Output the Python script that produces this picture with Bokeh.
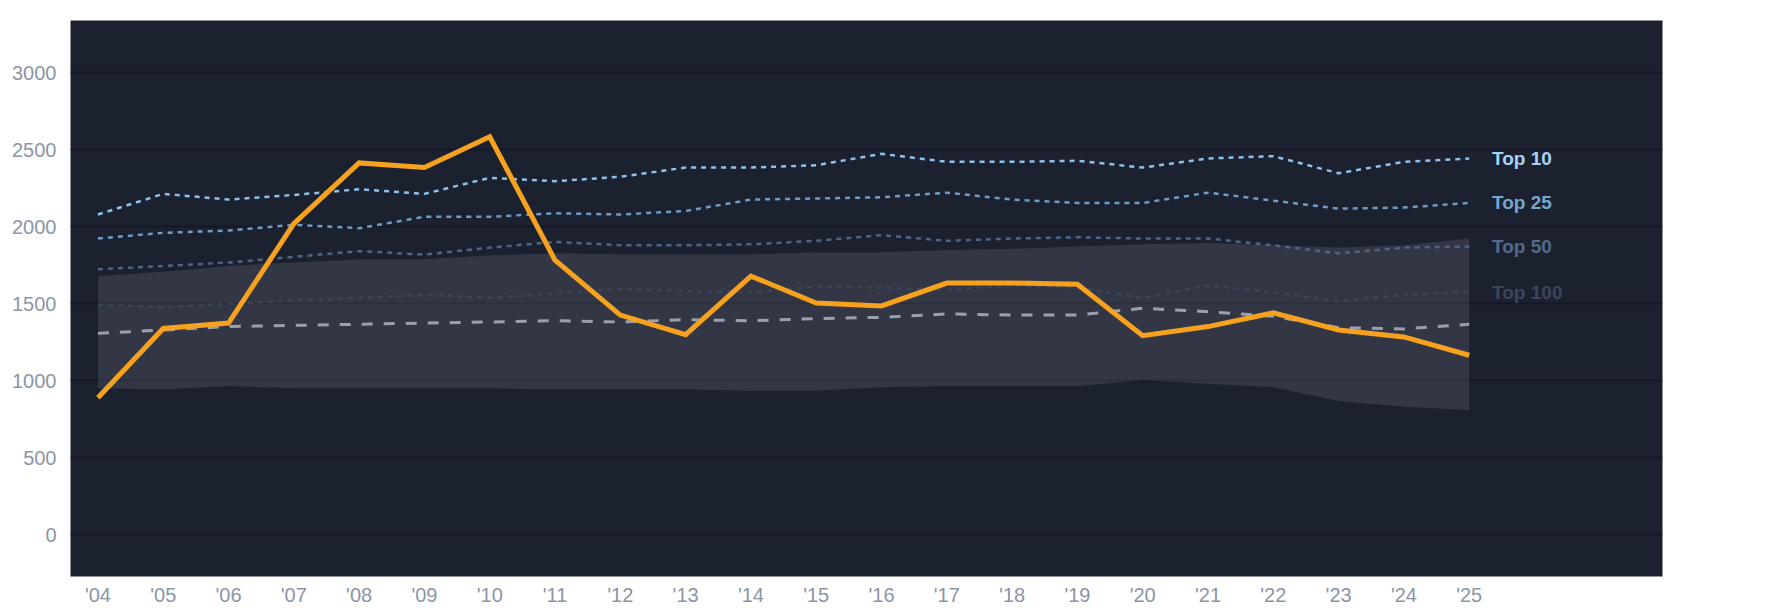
from bokeh.plotting import figure
from bokeh.models import FixedTicker, Range1d
from bokeh.core.properties import value
from bokeh.embed import file_html
from bokeh.resources import INLINE

years = list(range(2004, 2026))
year_labels = ["'%02d" % (y % 100) for y in years]

player = [890, 1340, 1375, 2020, 2415, 2385, 2585, 1783, 1427, 1300, 1680,
          1505, 1486, 1635, 1635, 1627, 1293, 1352, 1441, 1330, 1285, 1166]
top10 = [2080, 2214, 2177, 2207, 2244, 2214, 2318, 2296, 2325, 2385, 2385,
         2400, 2474, 2422, 2422, 2429, 2385, 2444, 2459, 2348, 2422, 2444]
top25 = [1924, 1961, 1976, 2013, 1991, 2065, 2065, 2088, 2080, 2103, 2177,
         2184, 2192, 2222, 2177, 2155, 2155, 2222, 2170, 2118, 2125, 2155]
top50 = [1724, 1746, 1768, 1805, 1842, 1820, 1865, 1902, 1880, 1880, 1887,
         1909, 1946, 1909, 1924, 1932, 1924, 1924, 1880, 1828, 1865, 1872]
top100 = [1493, 1478, 1500, 1523, 1538, 1560, 1538, 1568, 1597, 1582, 1575,
          1612, 1605, 1590, 1620, 1605, 1538, 1620, 1575, 1515, 1560, 1575]
median = [1308, 1330, 1352, 1360, 1367, 1375, 1382, 1390, 1382, 1397, 1390,
          1404, 1412, 1434, 1427, 1427, 1471, 1449, 1419, 1345, 1337, 1367]
band_high = [1679, 1709, 1746, 1768, 1790, 1790, 1813, 1828, 1820, 1820, 1820,
             1835, 1835, 1850, 1857, 1872, 1887, 1895, 1880, 1865, 1880, 1924]
band_low = [951, 944, 966, 951, 951, 951, 951, 944, 944, 944, 936,
            936, 958, 966, 966, 966, 1003, 981, 958, 869, 832, 810]

tier_names = ["Top 10", "Top 25", "Top 50", "Top 100"]
tier_line_colors = ["#8ec1ea", "#6d9dc5", "#4f6584", "#3a4559"]
tier_label_colors = ["#a6d3f5", "#76a6d0", "#56698a", "#3d4759"]
y_ticks = [0, 500, 1000, 1500, 2000, 2500, 3000]

FONT = "Liberation Sans"

p = figure(frame_width=1592, frame_height=556, output_backend="svg",
           toolbar_location=None, x_range=Range1d(2003.58, 2027.96),
           y_range=Range1d(-271, 3340),
           min_border_left=70, min_border_top=20, min_border_right=20,
           min_border_bottom=0)
p.background_fill_color = "#1c2130"
p.border_fill_color = "white"
p.outline_line_color = None

p.xgrid.grid_line_color = None
p.ygrid.grid_line_color = "#141925"
p.ygrid.grid_line_width = 2
p.ygrid.ticker = FixedTicker(ticks=y_ticks)

for ax in (p.xaxis, p.yaxis):
    ax.axis_line_color = None
    ax.major_tick_line_color = None
    ax.minor_tick_line_color = None
    ax.major_tick_out = 0
    ax.major_tick_in = 0
    ax.major_label_text_color = "#8b95a7"
    ax.major_label_text_font = FONT
    ax.major_label_text_font_size = "20px"

p.yaxis.ticker = FixedTicker(ticks=y_ticks)
p.yaxis.major_label_standoff = 14
p.xaxis.ticker = FixedTicker(ticks=years)
p.xaxis.major_label_overrides = {y: lab for y, lab in zip(years, year_labels)}
p.xaxis.major_label_standoff = 7

# band
p.varea(x=years, y1=band_low, y2=band_high, fill_color="#ffffff", fill_alpha=0.1)

# tier lines
tiers = [top10, top25, top50, top100]
for vals, col in zip(tiers, tier_line_colors):
    p.line(years, vals, line_color=col, line_width=2.5, line_dash="5 5")

# median dashed
p.line(years, median, line_color="#9aa1ad", line_width=3, line_dash="11 11")

# player line
p.line(years, player, line_color="#f6a21e", line_width=5, line_join="miter")

# labels
lab_x = [years[-1] + 0.35] * 4
lab_y = [t[-1] for t in tiers]
p.text(x=lab_x, y=lab_y, text=tier_names, text_color=tier_label_colors,
       text_font=value(FONT), text_font_style="bold", text_font_size="19px",
       text_baseline="middle", text_align="left")

open("out.html", "w").write(file_html(p, INLINE))
